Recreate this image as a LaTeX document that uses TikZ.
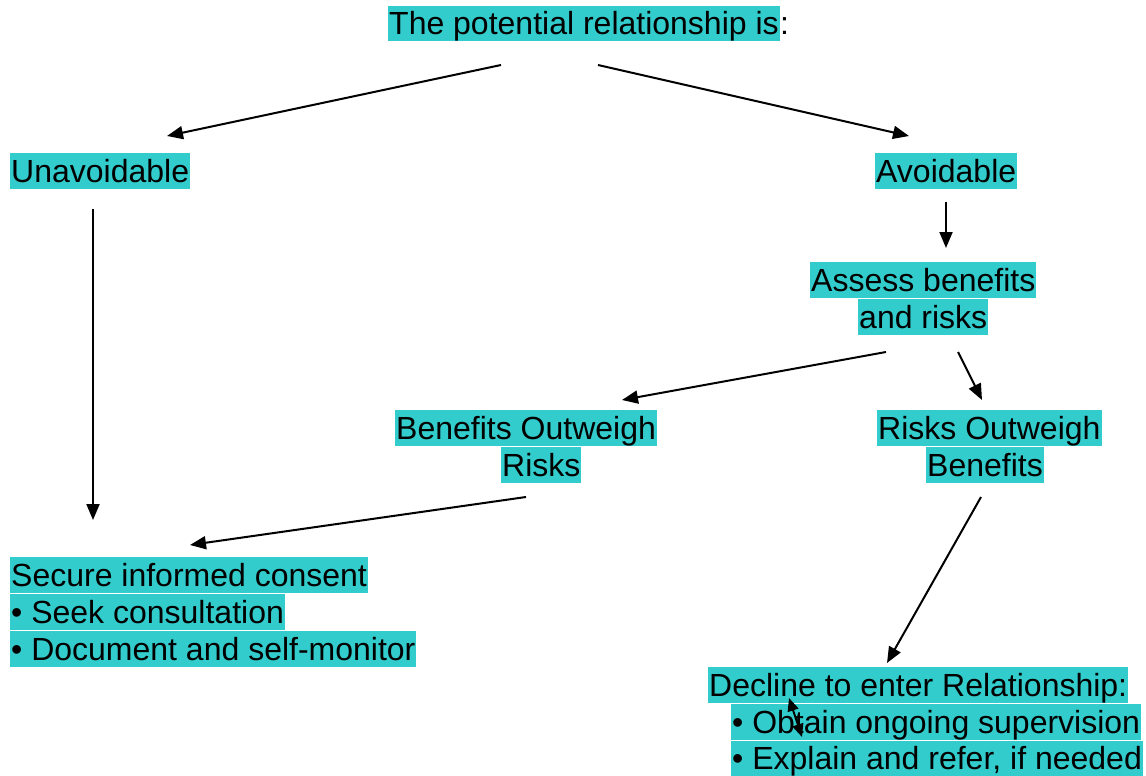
\documentclass[tikz,border=0pt]{standalone}
\usepackage{fontspec}
\setmainfont{Liberation Sans}
\usetikzlibrary{arrows.meta}
\definecolor{hl}{RGB}{51,204,204}
\begin{document}
\begin{tikzpicture}[x=1pt,y=-1pt,
  lbl/.style={fill=hl,anchor=west,inner xsep=1pt,inner ysep=0pt,text height=29pt,text depth=6.8pt,font=\fontsize{32}{36.8}\selectfont},
  plain/.style={lbl,fill=none,inner xsep=0pt},
  conn/.style={line width=2pt,-{Triangle[length=16pt,width=13pt]}},
  dconn/.style={line width=2pt,{Triangle[length=13pt,width=11pt]}-{Triangle[length=13pt,width=11pt]}}]
\useasboundingbox (0,0) rectangle (1146,776);
% nodes
\node[lbl] (title) at (388,23.5) {The potential relationship is};
\node[plain] (colon) at (title.east) {:};
\node[lbl] (unav) at (10,171) {Unavoidable};
\node[lbl] (avoid) at (875,171) {Avoidable};
\node[lbl] (assessA) at (810,280) {Assess benefits};
\node[lbl] (assessB) at (858,317) {and risks};
\node[lbl] (bowA) at (395,428) {Benefits Outweigh};
\node[lbl] (bowB) at (501,465) {Risks};
\node[lbl] (rowA) at (877,428) {Risks Outweigh};
\node[lbl] (rowB) at (926,465) {Benefits};
\node[lbl] (secA) at (10,575) {Secure informed consent};
\node[lbl] (secB) at (10,612) {• Seek consultation};
\node[lbl] (secC) at (10,649) {• Document and self-monitor};
\node[lbl] (decA) at (708,685) {Decline to enter Relationship:};
\node[lbl] (decB) at (731,722) {• Obtain ongoing supervision};
\node[lbl] (decC) at (731,758.5) {• Explain and refer, if needed};
% connector end points
\coordinate (t1) at (501,65);  \coordinate (u1) at (167,136);
\coordinate (t2) at (598,65);  \coordinate (a1) at (909,136);
\coordinate (u2) at (93,209);  \coordinate (s1) at (93,520);
\coordinate (a2) at (946,202); \coordinate (as1) at (946,248);
\coordinate (as2) at (886,352); \coordinate (b1) at (622,400);
\coordinate (as3) at (958,352); \coordinate (r1) at (982,400);
\coordinate (b2) at (526,497); \coordinate (s2) at (190,545);
\coordinate (r2) at (981,497); \coordinate (d1) at (887,663);
\coordinate (x1) at (789,698); \coordinate (x2) at (802,737);
% connectors
\draw[conn] (t1) -- (u1);
\draw[conn] (t2) -- (a1);
\draw[conn] (u2) -- (s1);
\draw[conn] (a2) -- (as1);
\draw[conn] (as2) -- (b1);
\draw[conn] (as3) -- (r1);
\draw[conn] (b2) -- (s2);
\draw[conn] (r2) -- (d1);
\draw[dconn] (x1) -- (x2);
\end{tikzpicture}
\end{document}
